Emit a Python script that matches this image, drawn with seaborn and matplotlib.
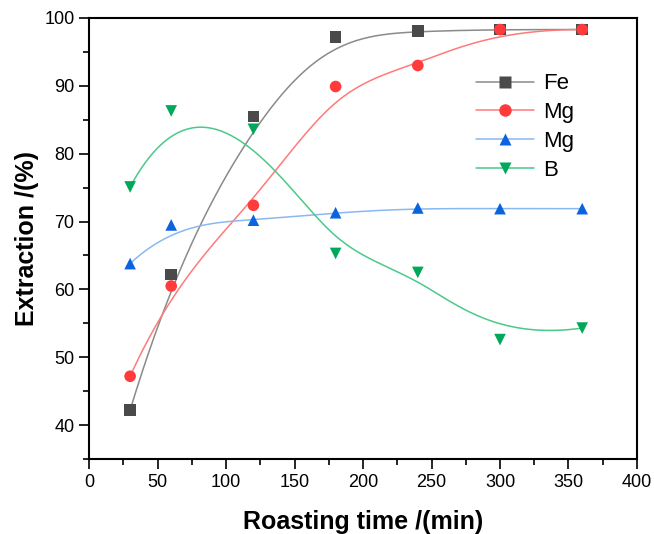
import numpy as np
import matplotlib
matplotlib.use("Agg")
import matplotlib.pyplot as plt
import seaborn as sns
import pandas as pd
from matplotlib.ticker import MultipleLocator
from matplotlib.lines import Line2D

time = [30, 60, 120, 180, 240, 300, 360]
fe = [42.2, 62.2, 85.5, 97.2, 98.1, 98.3, 98.3]
mg_red = [47.2, 60.5, 72.4, 89.9, 93.0, 98.3, 98.3]
mg_blue = [63.8, 69.5, 70.2, 71.3, 72.0, 71.9, 71.9]
b_vals = [75.1, 86.3, 83.6, 65.3, 62.5, 52.6, 54.3]
labels = ["Fe", "Mg", "Mg", "B"]

series = [
    (fe, "s", "#4a4a4a", "#8a8a8a"),
    (mg_red, "o", "#ff3b3b", "#ff7a7a"),
    (mg_blue, "^", "#0a64e0", "#8ab8f0"),
    (b_vals, "v", "#00a85a", "#4cc88a"),
]


def bspline(xs, ys, k=3, num=400):
    xs = np.asarray(xs, float)
    ys = np.asarray(ys, float)
    n = len(xs)
    inner = np.arange(1, n - k)
    t = np.concatenate([np.zeros(k + 1), inner, np.full(k + 1, n - k)]).astype(float)
    u = np.linspace(0, n - k, num)
    u[-1] -= 1e-9

    def basis(i, p, uu):
        if p == 0:
            return ((t[i] <= uu) & (uu < t[i + 1])).astype(float)
        a = np.zeros_like(uu)
        d1 = t[i + p] - t[i]
        d2 = t[i + p + 1] - t[i + 1]
        if d1 > 0:
            a += (uu - t[i]) / d1 * basis(i, p - 1, uu)
        if d2 > 0:
            a += (t[i + p + 1] - uu) / d2 * basis(i + 1, p - 1, uu)
        return a

    B = np.array([basis(i, k, u) for i in range(n)])
    return B.T @ xs, B.T @ ys


sns.set_theme(style="ticks")
plt.rcParams["font.family"] = ["Liberation Sans", "DejaVu Sans"]
plt.rcParams["text.color"] = "black"
plt.rcParams["axes.labelcolor"] = "black"

fig = plt.figure(figsize=(6.54, 5.34), dpi=100)
ax = fig.add_axes([0.1361, 0.1404, 0.8379, 0.8259])

handles = []
for (vals, mk, mc, lc), lab in zip(series, labels):
    cx, cy = bspline(time, vals)
    sns.lineplot(x=cx, y=cy, ax=ax, color=lc, lw=1.1, sort=False, estimator=None)
    df = pd.DataFrame({"t": time, "v": vals})
    sns.scatterplot(data=df, x="t", y="v", ax=ax, marker=mk, color=mc, s=70,
                    edgecolor="none", linewidth=0, zorder=3, clip_on=False)
    handles.append(Line2D([], [], color=lc, lw=1.1, marker=mk, markersize=9,
                          markerfacecolor=mc, markeredgecolor="none"))

ax.set_xlim(0, 400)
ax.set_ylim(35, 100)
ax.xaxis.set_major_locator(MultipleLocator(50))
ax.xaxis.set_minor_locator(MultipleLocator(25))
ax.set_yticks([40, 50, 60, 70, 80, 90, 100])
ax.yaxis.set_minor_locator(MultipleLocator(5))
ax.tick_params(axis="both", which="major", direction="out", length=7, width=1.2,
               labelsize=13, colors="black", top=False, right=False)
ax.tick_params(axis="both", which="minor", direction="out", length=4, width=1.2,
               colors="black", top=False, right=False)
for s in ax.spines.values():
    s.set_linewidth(1.5)
    s.set_color("black")
    s.set_visible(True)

ax.set_xlabel("Roasting time /(min)", fontsize=18, fontweight="bold", labelpad=14,
              color="black")
ax.set_ylabel("Extraction /(%)", fontsize=18, fontweight="bold", labelpad=4,
              color="black")

leg = ax.legend(handles, labels, loc="upper left", bbox_to_anchor=(0.67, 0.92),
                frameon=False, fontsize=16, handlelength=2.6, labelspacing=0.35,
                handletextpad=0.4)

fig.savefig("out.png", dpi=100)
